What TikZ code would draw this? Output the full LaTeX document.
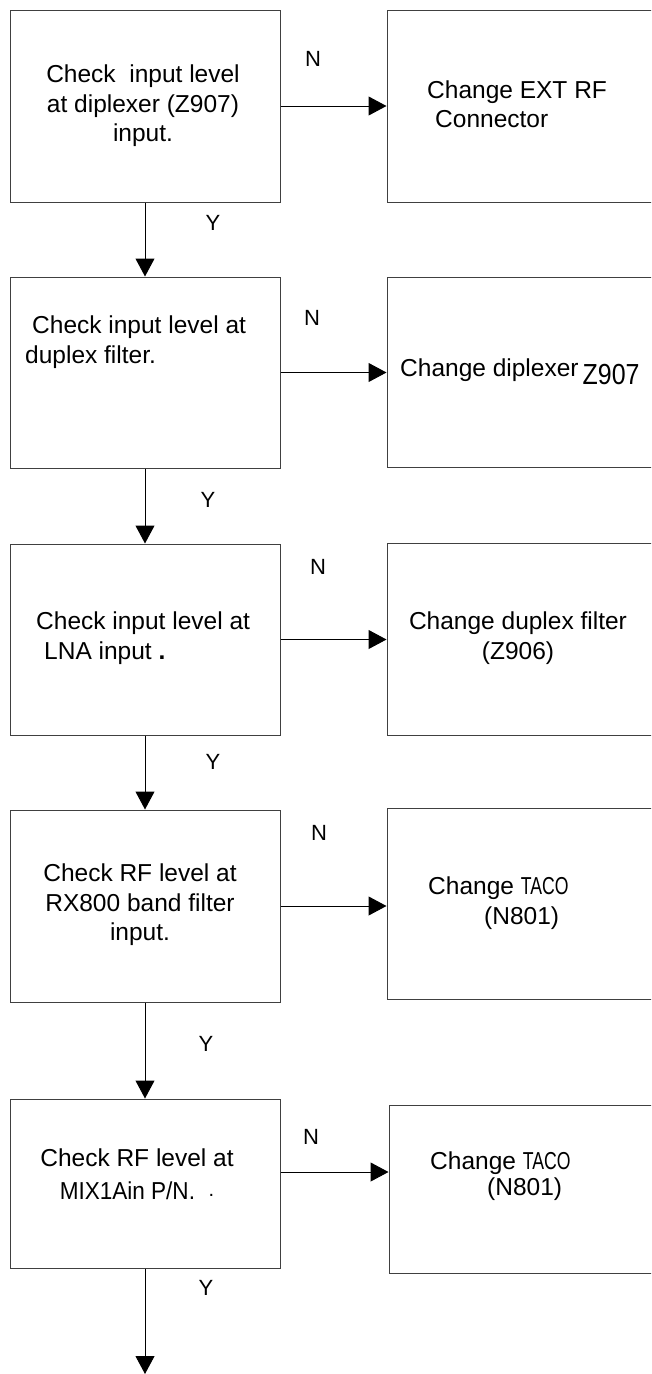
\documentclass[tikz,border=0pt]{standalone}
\usepackage{fontspec}
\usepackage{graphicx}
\setmainfont{Liberation Sans}
\usetikzlibrary{arrows.meta}
\newcommand{\narrowT}[1]{\scalebox{0.72}[1]{#1}}
\newcommand{\narrowM}[1]{\scalebox{0.92}[1]{#1}}
\begin{document}
\begin{tikzpicture}[x=1pt,y=-1pt,
  box/.style={draw=black!75, line width=1pt, inner sep=0pt, minimum width=270pt},
  rbox/.style={draw=black!75, line width=1pt, inner sep=0pt, minimum width=274pt},
  arr/.style={draw=black, line width=1pt, -{Triangle[width=19pt,length=18pt]}},
  txt/.style={font=\fontsize{24.5}{29.5}\selectfont, inner sep=0pt},
  lbl/.style={font=\fontsize{22}{22}\selectfont, inner sep=0pt}]
\clip (0,0) rectangle (651,1374);
\fill[white] (0,0) rectangle (651,1374);
% left boxes
\node[box, minimum height=192pt] (L1) at (145,106) {};
\node[box, minimum height=191pt] (L2) at (145,372.5) {};
\node[box, minimum height=191pt] (L3) at (145,639.5) {};
\node[box, minimum height=192pt] (L4) at (145,906) {};
\node[box, minimum height=169pt] (L5) at (145,1183.5) {};
% right boxes
\node[rbox, minimum height=192pt] (R1) at (524,106) {};
\node[rbox, minimum height=190pt] (R2) at (524,372) {};
\node[rbox, minimum height=192pt] (R3) at (524,639) {};
\node[rbox, minimum height=191pt] (R4) at (524,903.5) {};
\node[rbox, minimum height=168pt] (R5) at (526,1189) {};
% texts left
\node[txt, align=center] (T1) at (143,106) {Check\ \ input level\\at diplexer (Z907)\\input.};
\node[txt, align=left, anchor=west] (T2) at (25,342) {\hspace{7pt}Check input level at\\duplex filter.};
\node[txt, align=left, anchor=west] (T3) at (36,638) {Check input level at\\\hspace{8pt}LNA input \textbf{.}};
\node[txt, align=center] (T4) at (140,905) {Check RF level at\\RX800 band filter\\input.};
\node[txt, align=center, font=\fontsize{24.5}{33}\selectfont] (T5) at (137,1174) {Check RF level at\\\narrowM{MIX1Ain P/N.}\ \ \raisebox{3pt}{\fontsize{20}{20}\selectfont .}};
% texts right
\node[txt, align=left, anchor=west] (S1) at (427,104) {Change EXT RF\\\hspace{8pt}Connector};
\node[txt, anchor=west] (S2) at (400,372) {Change diplexer\,\raisebox{-8pt}{\fontsize{29}{29}\selectfont\scalebox{0.86}[1]{Z907}}};
\node[txt, align=center] (S3) at (518,638) {Change duplex filter\\(Z906)};
\node[txt, align=left, anchor=west] (S4) at (428,903) {Change \narrowT{TACO}\\\hspace{56pt}(N801)};
\node[txt, align=left, anchor=west, font=\fontsize{24.5}{26}\selectfont] (S5) at (430,1176) {Change \narrowT{TACO}\\\hspace{57pt}(N801)};
% N labels
\node[lbl] (N1) at (313,59) {N};
\node[lbl] (N2) at (312,318) {N};
\node[lbl] (N3) at (318,567) {N};
\node[lbl] (N4) at (319,833) {N};
\node[lbl] (N5) at (311,1137) {N};
% Y labels
\node[lbl] (Y1) at (213,223) {Y};
\node[lbl] (Y2) at (208,500) {Y};
\node[lbl] (Y3) at (213,762) {Y};
\node[lbl] (Y4) at (206,1044) {Y};
\node[lbl] (Y5) at (206,1288) {Y};
% vertical connectors
\draw[arr] (L1.south) -- (L2.north);
\draw[arr] (L2.south) -- (L3.north);
\draw[arr] (L3.south) -- (L4.north);
\draw[arr] (L4.south) -- (L5.north);
\coordinate (E) at (145,1374);
\draw[arr] (L5.south) -- (E);
% horizontal connectors
\draw[arr] (L1.east) -- (L1.east -| R1.west);
\draw[arr] (L2.east) -- (L2.east -| R2.west);
\draw[arr] (L3.east) -- (L3.east -| R3.west);
\draw[arr] (L4.east) -- (L4.east -| R4.west);
\coordinate (A5) at ([yshift=11.5pt]L5.east);
\draw[arr] (A5) -- (A5 -| R5.west);
\end{tikzpicture}
\end{document}
